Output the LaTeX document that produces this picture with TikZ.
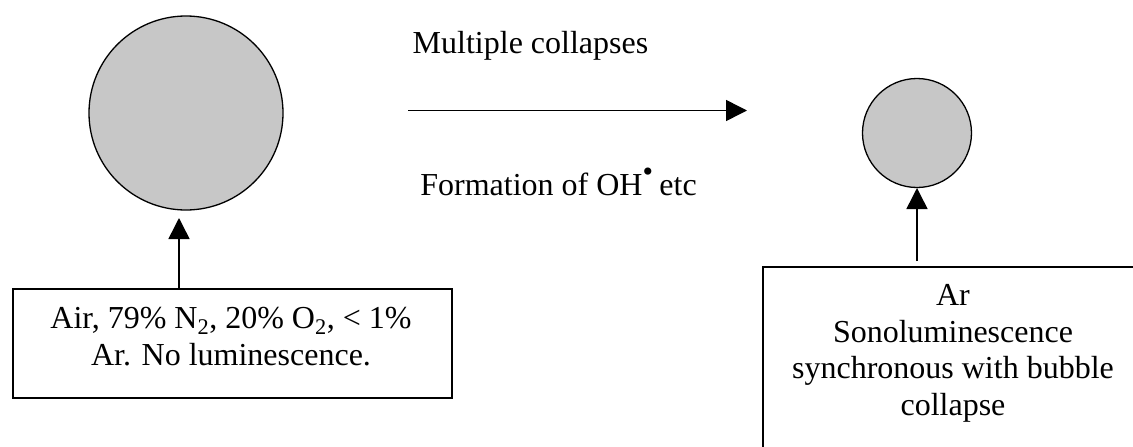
\documentclass[tikz,border=0pt]{standalone}
\usepackage{fontspec}
\setmainfont{Liberation Serif}
\usetikzlibrary{arrows.meta}
\begin{document}
\begin{tikzpicture}[x=1pt,y=-1pt,
  every node/.style={font=\fontsize{32}{37}\selectfont, inner sep=0pt},
  bubble/.style={circle, draw, line width=1.3pt, fill=black!22, minimum size=#1, inner sep=0pt},
  infobox/.style={draw, line width=1.5pt, anchor=north west},
  conn/.style={line width=1.5pt, -{Triangle[length=21pt,width=21pt]}}]
\clip (0,0) rectangle (1133,447);
\useasboundingbox (0,0) rectangle (1133,447);
% bubbles
\node[bubble=194pt] (big) at (186,113) {};
\node[bubble=109pt] (small) at (917,133) {};
% labels
\node[anchor=base] (multi) at (530.5,53) {Multiple collapses};
\node[anchor=base] (form) at (558.5,195) {Formation of OH\raisebox{0.42em}{\fontsize{30}{30}\selectfont\textbullet}\kern-0.05em{} etc};
% main arrow
\coordinate (ma) at (408,110.5);
\coordinate (mb) at (747,110.5);
\draw[conn] (ma) -- (mb);
% left box
\node[infobox, minimum width=439pt, minimum height=109pt] (lbox) at (12,288) {};
\node[anchor=base] (l1) at (231,328) {Air, 79\% N\textsubscript{2}, 20\% O\textsubscript{2}, < 1\%};
\node[anchor=base] (l2) at (231,365) {Ar. No luminescence.};
\coordinate (ltip) at (179,218);
\draw[conn] (lbox.north -| ltip) -- (ltip);
% right box
\node[infobox, minimum width=384pt, minimum height=230pt] (rbox) at (762,266) {};
\node[anchor=base] (r1) at (953,305) {Ar};
\node[anchor=base] (r2) at (953,342) {Sonoluminescence};
\node[anchor=base] (r3) at (953,378) {synchronous with bubble};
\node[anchor=base] (r4) at (953,415) {collapse};
\coordinate (rtip) at (917,188);
\coordinate (rbase) at (917,261);
\draw[conn] (rbase) -- (rtip);
\end{tikzpicture}
\end{document}
